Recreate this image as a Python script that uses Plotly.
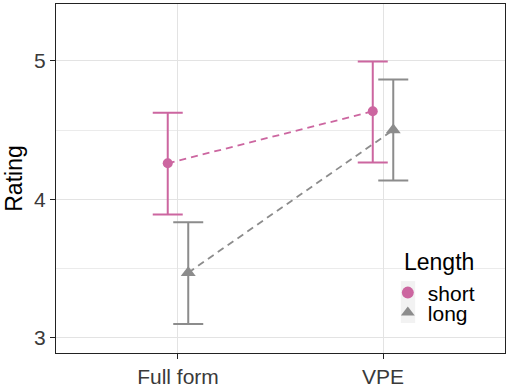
import plotly.graph_objects as go

categories = ["Full form", "VPE"]
lengths = ["short", "long"]
short_mean = [4.26, 4.635]
short_lo = [3.89, 4.265]
short_hi = [4.625, 4.995]
long_mean = [3.47, 4.50]
long_lo = [3.10, 4.135]
long_hi = [3.835, 4.865]
y_ticks = [3, 4, 5]

colors = {"short": "#CC66A0", "long": "#8C8C8C"}
symbols = {"short": "circle", "long": "triangle-up"}
sizes = {"short": 10, "long": 13}
dodge = {"short": -0.05, "long": 0.05}
legend_ids = {"short": "legend", "long": "legend2"}

series = {
    "short": (short_mean, short_lo, short_hi),
    "long": (long_mean, long_lo, long_hi),
}

fig = go.Figure()
for name in lengths:
    m, lo, hi = series[name]
    xs = [i + 1 + dodge[name] for i in range(len(categories))]
    fig.add_trace(go.Scatter(
        x=xs, y=m, mode="lines+markers",
        line=dict(color=colors[name], width=1.8, dash="7px,5px"),
        marker=dict(color=colors[name], symbol=symbols[name], size=sizes[name]),
        error_y=dict(type="data", symmetric=False,
                     array=[h - v for h, v in zip(hi, m)],
                     arrayminus=[v - l for v, l in zip(m, lo)],
                     color=colors[name], thickness=2, width=15),
        showlegend=False, hoverinfo="skip",
    ))
    fig.add_trace(go.Scatter(
        x=[None], y=[None], mode="markers", name=name, legend=legend_ids[name],
        marker=dict(color=colors[name], symbol=symbols[name], size=sizes[name]),
    ))

leg_common = dict(
    font=dict(size=21, color="black"), xanchor="left", yanchor="middle",
    bgcolor="rgba(0,0,0,0)", itemsizing="constant", itemwidth=30,
    borderwidth=0,
)
fig.update_layout(
    width=510, height=387,
    margin=dict(l=56, r=5, t=4, b=34, autoexpand=False),
    paper_bgcolor="white", plot_bgcolor="white",
    font=dict(family="Liberation Sans, Arial, sans-serif", color="#3A3A3A"),
    legend=dict(x=0.739, y=0.172, **leg_common),
    legend2=dict(x=0.739, y=0.115, **leg_common),
    annotations=[dict(
        text="Length", xref="paper", yref="paper", x=0.771, y=0.262,
        xanchor="left", yanchor="middle", showarrow=False,
        font=dict(size=23, color="black"),
    )],
    shapes=[dict(
        type="rect", xref="paper", yref="paper", x0=0.768, x1=0.800,
        y0=0.086, y1=0.206, fillcolor="#F2F2F2", line=dict(width=0),
        layer="below",
    )],
)
fig.update_xaxes(
    range=[0.405, 2.595], tickvals=[1, 2], ticktext=categories,
    showgrid=True, gridcolor="#E3E3E3", gridwidth=1.2,
    showline=True, linecolor="#222222", linewidth=1.4, mirror=True,
    ticks="outside", ticklen=5, tickcolor="#222222", tickwidth=1.2,
    tickfont=dict(size=21, color="#3A3A3A"), zeroline=False, automargin=False,
)
fig.update_yaxes(
    range=[2.89, 5.41], tickvals=y_ticks,
    showgrid=True, gridcolor="#E3E3E3", gridwidth=1.2,
    minor=dict(tickvals=[3.5, 4.5], showgrid=True, gridcolor="#EBEBEB", gridwidth=1),
    showline=True, linecolor="#222222", linewidth=1.4, mirror=True,
    ticks="outside", ticklen=5, tickcolor="#222222", tickwidth=1.2,
    tickfont=dict(size=21, color="#3A3A3A"), zeroline=False, automargin=False,
    title=dict(text="Rating", font=dict(size=23, color="black"), standoff=4),
)
fig.write_html(
    "out.html",
    config={"displayModeBar": False},
    post_script="document.body.style.margin='0px';document.body.style.overflow='hidden';",
)
